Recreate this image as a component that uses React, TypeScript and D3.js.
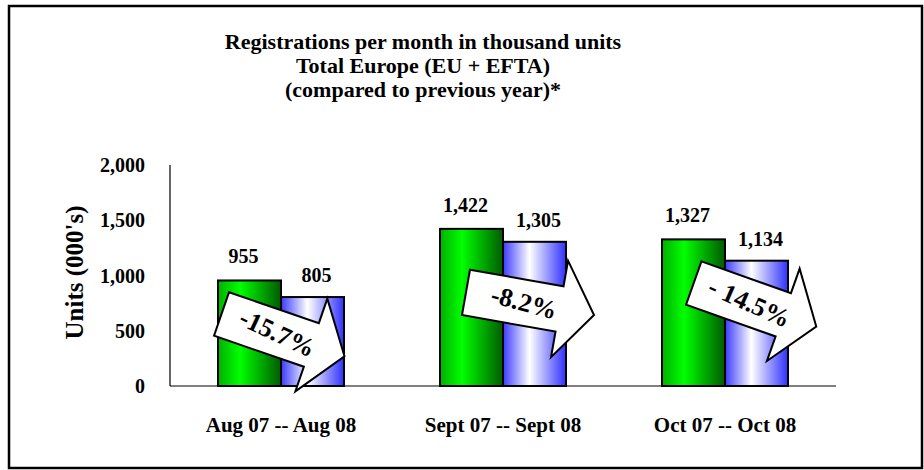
import { useEffect, useRef } from 'react'
import * as d3 from 'd3'

const categories = ['Aug 07 -- Aug 08', 'Sept 07 -- Sept 08', 'Oct 07 -- Oct 08']
const prevYear = [955, 1422, 1327]
const currYear = [805, 1305, 1134]
const changeLabels = ['-15.7%', '-8.2%', '- 14.5%']
const arrowAngles = [19, 10, 19.5]
const textAngles = [25, 15, 24]
const yTicks = [0, 500, 1000, 1500, 2000]
const titleLines = [
  'Registrations per month in thousand units',
  'Total Europe (EU + EFTA)',
  '(compared to previous year)*',
]

const FONT = '"Liberation Serif", "Times New Roman", serif'

export default function App() {
  const svgRef = useRef<SVGSVGElement>(null)

  useEffect(() => {
    if (!svgRef.current) return
    const width = 924
    const height = 470
    const svg = d3.select(svgRef.current)
    svg.selectAll('*').remove()

    const margin = { top: 165, right: 88, bottom: 84, left: 170 }
    const w = width - margin.left - margin.right
    const h = height - margin.top - margin.bottom

    // gradients
    const defs = svg.append('defs')
    const green = defs.append('linearGradient').attr('id', 'g-green')
      .attr('x1', '0%').attr('x2', '100%').attr('y1', '0%').attr('y2', '0%')
    green.append('stop').attr('offset', '0%').attr('stop-color', '#00b000')
    green.append('stop').attr('offset', '35%').attr('stop-color', '#00ff00')
    green.append('stop').attr('offset', '100%').attr('stop-color', '#005a00')
    const blue = defs.append('linearGradient').attr('id', 'g-blue')
      .attr('x1', '0%').attr('x2', '100%').attr('y1', '0%').attr('y2', '0%')
    blue.append('stop').attr('offset', '0%').attr('stop-color', '#3a3aff')
    blue.append('stop').attr('offset', '42%').attr('stop-color', '#ffffff')
    blue.append('stop').attr('offset', '100%').attr('stop-color', '#3030ff')

    // frame
    svg.append('rect')
      .attr('x', 9).attr('y', 6).attr('width', 913).attr('height', 462)
      .attr('fill', '#fff').attr('stroke', '#000').attr('stroke-width', 2.5)

    // title
    svg.append('g').selectAll('text').data(titleLines).join('text')
      .attr('x', 423).attr('y', (_, i) => 49 + i * 24)
      .attr('text-anchor', 'middle')
      .attr('font-family', FONT).attr('font-weight', 'bold').attr('font-size', '22px')
      .text(d => d)

    const g = svg.append('g').attr('transform', `translate(${margin.left},${margin.top})`)

    const x = d3.scaleBand<string>().domain(categories).range([0, w]).paddingInner(0).paddingOuter(0)
    const y = d3.scaleLinear().domain([0, 2000]).range([h, 0])
    const barW = 63

    // axes lines
    g.append('line').attr('x1', 0).attr('x2', 0).attr('y1', 0).attr('y2', h)
      .attr('stroke', '#000').attr('stroke-width', 1.2)
    g.append('line').attr('x1', 0).attr('x2', w).attr('y1', h).attr('y2', h)
      .attr('stroke', '#000').attr('stroke-width', 1.2)

    g.append('g').selectAll('text').data(yTicks).join('text')
      .attr('x', -25).attr('y', d => y(d) + 7)
      .attr('text-anchor', 'end')
      .attr('font-family', FONT).attr('font-weight', 'bold').attr('font-size', '20px')
      .text(d => d3.format(',')(d))

    g.append('text')
      .attr('transform', 'rotate(-90)').attr('x', -h / 2 + 3).attr('y', -87)
      .attr('text-anchor', 'middle')
      .attr('font-family', FONT).attr('font-weight', 'bold').attr('font-size', '25px')
      .text("Units (000's)")

    g.append('g').selectAll('text').data(categories).join('text')
      .attr('x', d => x(d)! + x.bandwidth() / 2).attr('y', h + 46)
      .attr('text-anchor', 'middle')
      .attr('font-family', FONT).attr('font-weight', 'bold').attr('font-size', '21px')
      .text(d => d)

    // bars
    categories.forEach((c, i) => {
      const cx = x(c)! + x.bandwidth() / 2
      g.append('rect')
        .attr('x', cx - barW).attr('y', y(prevYear[i]))
        .attr('width', barW).attr('height', h - y(prevYear[i]))
        .attr('fill', 'url(#g-green)').attr('stroke', '#000').attr('stroke-width', 2)
      g.append('rect')
        .attr('x', cx).attr('y', y(currYear[i]))
        .attr('width', barW).attr('height', h - y(currYear[i]))
        .attr('fill', 'url(#g-blue)').attr('stroke', '#000').attr('stroke-width', 2)

      g.append('text')
        .attr('x', cx - barW / 2 - 6).attr('y', y(prevYear[i]) - 17)
        .attr('text-anchor', 'middle')
        .attr('font-family', FONT).attr('font-weight', 'bold').attr('font-size', '20px')
        .text(d3.format(',')(prevYear[i]))
      g.append('text')
        .attr('x', cx + barW / 2 + 4).attr('y', y(currYear[i]) - 15)
        .attr('text-anchor', 'middle')
        .attr('font-family', FONT).attr('font-weight', 'bold').attr('font-size', '20px')
        .text(d3.format(',')(currYear[i]))
    })

    // change arrows
    const L = 130
    const bodyH = 23
    const headH = 49
    const headL = 35
    const arrowPts: [number, number][] = [
      [-L / 2, -bodyH], [L / 2 - headL, -bodyH], [L / 2 - headL, -headH],
      [L / 2, 0], [L / 2 - headL, headH], [L / 2 - headL, bodyH], [-L / 2, bodyH],
    ]
    const arrowAnchor = [
      { dx: 2, v: 460 },
      { dx: 27, v: 745 },
      { dx: 30, v: 735 },
    ]
    categories.forEach((c, i) => {
      const cx = x(c)! + x.bandwidth() / 2 + arrowAnchor[i].dx
      const cy = y(arrowAnchor[i].v)
      const a = g.append('g').attr('transform', `translate(${cx},${cy})`)
      a.append('path')
        .attr('transform', `rotate(${arrowAngles[i]})`)
        .attr('d', d3.line()(arrowPts)! + 'Z')
        .attr('fill', '#fff').attr('stroke', '#000').attr('stroke-width', 2)
        .attr('stroke-linejoin', 'miter')
      a.append('text')
        .attr('transform', `rotate(${textAngles[i]})`)
        .attr('x', -6).attr('y', 9)
        .attr('text-anchor', 'middle')
        .attr('font-family', FONT).attr('font-weight', 'bold').attr('font-size', '26px')
        .text(changeLabels[i])
    })
  }, [])

  return (
    <svg ref={svgRef} width={924} height={470}
      style={{ position: 'absolute', left: 0, top: 0, background: '#fff' }} />
  )
}
